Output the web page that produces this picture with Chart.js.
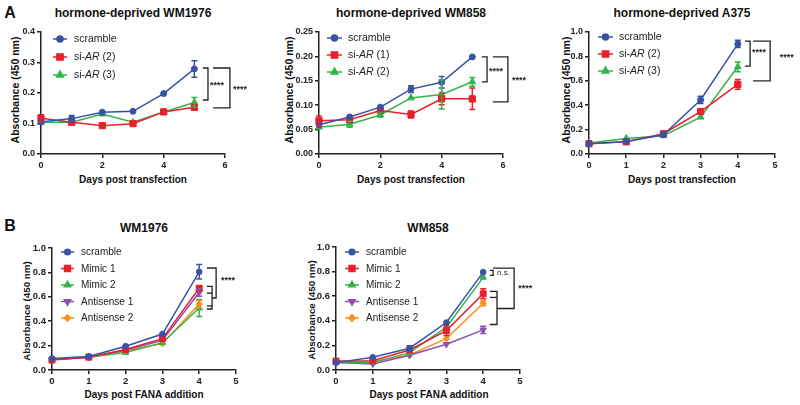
<!DOCTYPE html>
<html>
<head>
<meta charset="utf-8">
<script src="https://cdn.jsdelivr.net/npm/chart.js@4.4.1/dist/chart.umd.min.js"></script>
<style>
  body { margin: 0; background: #fff; }
  #fig { position: relative; width: 800px; height: 405px; overflow: hidden;
         font-family: "Liberation Sans", Arial, sans-serif; color: #111; }
  canvas { position: absolute; }
  .t { position: absolute; white-space: nowrap; font-weight: bold; transform: translate(-50%, -50%); }
  .yt { transform: translate(-50%, -50%) rotate(-90deg); }
</style>
</head>
<body>
<div id="fig">
  <div class="t" style="left:10px;top:13px;font-size:16px">A</div>
  <div class="t" style="left:10px;top:226px;font-size:16px">B</div>

  <div class="t" style="left:133px;top:13px;font-size:12px">hormone-deprived WM1976</div>
  <div class="t" style="left:411px;top:13px;font-size:12px">hormone-deprived WM858</div>
  <div class="t" style="left:682px;top:13px;font-size:12px">hormone-deprived A375</div>
  <div class="t" style="left:144px;top:228px;font-size:12px">WM1976</div>
  <div class="t" style="left:428px;top:228px;font-size:12px">WM858</div>

  <div class="t" style="left:133px;top:179px;font-size:10px">Days post transfection</div>
  <div class="t" style="left:411px;top:179px;font-size:10px">Days post transfection</div>
  <div class="t" style="left:682px;top:179px;font-size:10px">Days post transfection</div>
  <div class="t" style="left:144px;top:394px;font-size:10px">Days post FANA addition</div>
  <div class="t" style="left:429px;top:394px;font-size:10px">Days post FANA addition</div>

  <div class="t yt" style="left:15px;top:90px;font-size:10.5px">Absorbance (450 nm)</div>
  <div class="t yt" style="left:289px;top:90px;font-size:10.5px">Absorbance (450 nm)</div>
  <div class="t yt" style="left:566px;top:90px;font-size:10.5px">Absorbance (450 nm)</div>
  <div class="t yt" style="left:26px;top:311px;font-size:9.8px">Absorbance (450 nm)</div>
  <div class="t yt" style="left:311px;top:310px;font-size:9.8px">Absorbance (450 nm)</div>

  <canvas id="a1" width="265" height="175" style="left:0;top:0"></canvas>
  <canvas id="a2" width="265" height="175" style="left:270px;top:0"></canvas>
  <canvas id="a3" width="260" height="175" style="left:540px;top:0"></canvas>
  <canvas id="b1" width="270" height="192" style="left:0;top:200px"></canvas>
  <canvas id="b2" width="260" height="192" style="left:290px;top:200px"></canvas>
</div>

<script>
// ---- data ----
const daysA = [0, 1, 2, 3, 4, 5];
const daysA375 = [0, 1, 2, 3, 4];
const daysB = [0, 1, 2, 3, 4];

const xTicks6 = [0, 2, 4, 6];
const xTicks5 = [0, 1, 2, 3, 4, 5];
const yTicksA1 = [0, 0.1, 0.2, 0.3, 0.4];
const yTicksA2 = [0, 0.05, 0.10, 0.15, 0.20, 0.25];
const yTicks10 = [0, 0.2, 0.4, 0.6, 0.8, 1.0];

// hormone-deprived WM1976
const wm1976Scramble = [0.105, 0.116, 0.137, 0.140, 0.198, 0.279];
const wm1976ScrambleErr = [0, 0.010, 0, 0, 0, 0.027];
const wm1976Si2 = [0.117, 0.104, 0.093, 0.0995, 0.138, 0.153];
const wm1976Si2Err = [0.012, 0, 0, 0, 0, 0.006];
const wm1976Si3 = [0.104, 0.104, 0.131, 0.104, 0.138, 0.169];
const wm1976Si3Err = [0, 0, 0, 0, 0, 0.016];

// hormone-deprived WM858
const wm858Scramble = [0.060, 0.076, 0.096, 0.133, 0.147, 0.199];
const wm858ScrambleErr = [0, 0, 0, 0.007, 0.012, 0];
const wm858Si1 = [0.068, 0.070, 0.089, 0.081, 0.113, 0.113];
const wm858Si1Err = [0.010, 0, 0, 0.007, 0.012, 0.022];
const wm858Si2 = [0.055, 0.061, 0.080, 0.115, 0.122, 0.148];
const wm858Si2Err = [0, 0.006, 0.004, 0, 0.030, 0.009];

// hormone-deprived A375
const a375Scramble = [0.084, 0.103, 0.158, 0.443, 0.902];
const a375ScrambleErr = [0, 0, 0, 0.03, 0.03];
const a375Si2 = [0.084, 0.100, 0.166, 0.348, 0.571];
const a375Si2Err = [0, 0, 0, 0, 0.04];
const a375Si3 = [0.090, 0.128, 0.150, 0.302, 0.715];
const a375Si3Err = [0, 0, 0, 0, 0.04];

// WM1976 FANA
const bWm1976Scramble = [0.095, 0.111, 0.195, 0.295, 0.805];
const bWm1976ScrambleErr = [0, 0, 0, 0, 0.06];
const bWm1976Mimic1 = [0.081, 0.105, 0.168, 0.257, 0.670];
const bWm1976Mimic1Err = [0, 0, 0, 0, 0.02];
const bWm1976Mimic2 = [0.086, 0.105, 0.143, 0.224, 0.508];
const bWm1976Mimic2Err = [0, 0, 0, 0, 0.07];
const bWm1976Anti1 = [0.086, 0.105, 0.162, 0.243, 0.635];
const bWm1976Anti1Err = [0, 0, 0, 0, 0.03];
const bWm1976Anti2 = [0.086, 0.105, 0.157, 0.216, 0.540];
const bWm1976Anti2Err = [0, 0, 0, 0, 0.03];

// WM858 FANA
const bWm858Scramble = [0.060, 0.103, 0.177, 0.386, 0.796];
const bWm858ScrambleErr = [0, 0, 0.02, 0, 0];
const bWm858Mimic1 = [0.073, 0.076, 0.163, 0.320, 0.620];
const bWm858Mimic1Err = [0, 0, 0, 0.04, 0.04];
const bWm858Mimic2 = [0.060, 0.060, 0.141, 0.348, 0.753];
const bWm858Mimic2Err = [0, 0, 0, 0, 0];
const bWm858Anti1 = [0.060, 0.049, 0.120, 0.209, 0.326];
const bWm858Anti1Err = [0, 0, 0, 0, 0.03];
const bWm858Anti2 = [0.068, 0.068, 0.122, 0.255, 0.543];
const bWm858Anti2Err = [0, 0, 0, 0, 0.02];

// ---- styles ----
const STY = {
  blue:   { c: '#3953a4', ps: 'circle',   r: 3.0, rot: 0 },
  red:    { c: '#e8202a', ps: 'rect',     r: 4.4, rot: 0 },
  green:  { c: '#36b24a', ps: 'triangle', r: 3.9, rot: 0 },
  purple: { c: '#8e4fb2', ps: 'triangle', r: 3.9, rot: 180 },
  orange: { c: '#f7931e', ps: 'rectRot',  r: 3.4, rot: 0 }
};
const INK = '#222';
const FONT = '"Liberation Sans", Arial, sans-serif';

function series(label, xs, ys, errs, key, k) {
  const s = STY[key];
  return {
    label: label,
    data: xs.map((x, i) => ({ x: x, y: ys[i] })),
    errorBars: errs,
    borderColor: s.c,
    backgroundColor: s.c,
    pointBackgroundColor: s.c,
    pointBorderColor: s.c,
    pointStyle: s.ps,
    pointRotation: s.rot,
    pointRadius: s.r * k,
    pointHoverRadius: s.r * k,
    pointBorderWidth: 1,
    borderWidth: 1.5,
    tension: 0,
    fill: false,
    clip: false
  };
}

// error bars with caps
const errorBarPlugin = {
  id: 'errorBars',
  afterDatasetsDraw(chart) {
    const ctx = chart.ctx, ys = chart.scales.y;
    chart.data.datasets.forEach((ds, di) => {
      const meta = chart.getDatasetMeta(di);
      if (!ds.errorBars) return;
      ctx.save();
      ctx.strokeStyle = ds.borderColor;
      ctx.lineWidth = 1.5;
      meta.data.forEach((pt, i) => {
        const e = ds.errorBars[i];
        if (!e) return;
        const v = ds.data[i].y;
        const top = ys.getPixelForValue(v + e), bot = ys.getPixelForValue(v - e);
        ctx.beginPath();
        ctx.moveTo(pt.x, top); ctx.lineTo(pt.x, bot);
        ctx.moveTo(pt.x - 3, top); ctx.lineTo(pt.x + 3, top);
        ctx.moveTo(pt.x - 3, bot); ctx.lineTo(pt.x + 3, bot);
        ctx.stroke();
      });
      ctx.restore();
    });
  }
};

// legend drawn inside the plot area
function drawMarker(ctx, opts, x, y) {
  if (Chart.helpers && Chart.helpers.drawPoint) {
    Chart.helpers.drawPoint(ctx, opts, x, y);
    return;
  }
  ctx.beginPath(); ctx.arc(x, y, opts.radius, 0, Math.PI * 2); ctx.fill();
}
const inLegendPlugin = {
  id: 'inLegend',
  afterDraw(chart, args, o) {
    const ctx = chart.ctx, a = chart.chartArea;
    ctx.save();
    chart.data.datasets.forEach((ds, i) => {
      const y = a.top + o.y + i * o.gap;
      const x0 = a.left + o.x;
      ctx.strokeStyle = ds.borderColor;
      ctx.fillStyle = ds.borderColor;
      ctx.lineWidth = 1.5;
      ctx.beginPath(); ctx.moveTo(x0, y); ctx.lineTo(x0 + o.len, y); ctx.stroke();
      drawMarker(ctx, { pointStyle: ds.pointStyle, rotation: ds.pointRotation,
        radius: ds.pointRadius, borderWidth: 1 }, x0 + o.len / 2, y);
      // label, <i>..</i> in italics
      let tx = a.left + o.tx;
      ctx.fillStyle = '#222';
      ctx.textBaseline = 'middle';
      ctx.textAlign = 'left';
      let ital = false;
      ds.label.split(/(<i>|<\/i>)/).forEach(part => {
        if (part === '<i>') { ital = true; return; }
        if (part === '</i>') { ital = false; return; }
        if (!part) return;
        ctx.font = (ital ? 'italic ' : '') + o.size + 'px ' + FONT;
        ctx.fillText(part, tx, y + 0.5);
        tx += ctx.measureText(part).width;
      });
    });
    ctx.restore();
  }
};

// significance brackets, in data units
const bracketPlugin = {
  id: 'brackets',
  afterDraw(chart, args, o) {
    const ctx = chart.ctx, xs = chart.scales.x, ys = chart.scales.y;
    ctx.save();
    ctx.strokeStyle = INK;
    ctx.lineWidth = 1.3;
    (o.paths || []).forEach(p => {
      ctx.beginPath();
      p.forEach((q, i) => {
        const px = xs.getPixelForValue(q[0]), py = ys.getPixelForValue(q[1]);
        if (i === 0) ctx.moveTo(px, py); else ctx.lineTo(px, py);
      });
      ctx.stroke();
    });
    ctx.fillStyle = INK;
    ctx.textBaseline = 'middle';
    ctx.textAlign = 'left';
    (o.labels || []).forEach(l => {
      ctx.font = (l.bold ? 'bold ' : '') + l.size + 'px ' + FONT;
      ctx.fillText(l.text, xs.getPixelForValue(l.x), ys.getPixelForValue(l.y));
    });
    ctx.restore();
  }
};

function makePanel(id, p) {
  const axisBase = {
    type: 'linear',
    grid: { display: true, drawOnChartArea: false, drawTicks: true, tickLength: 4, color: INK, lineWidth: 1.5 },
    border: { display: true, color: INK, width: 1.5 }
  };
  new Chart(document.getElementById(id), {
    type: 'line',
    data: { datasets: p.datasets },
    plugins: [errorBarPlugin, inLegendPlugin, bracketPlugin],
    options: {
      responsive: false,
      animation: false,
      devicePixelRatio: 1,
      events: [],
      layout: { padding: { left: 0, top: p.padT, right: p.padR, bottom: 0 } },
      plugins: {
        legend: { display: false },
        title: { display: false },
        tooltip: { enabled: false },
        inLegend: p.legend,
        brackets: p.brackets
      },
      scales: {
        x: Object.assign({}, axisBase, {
          min: p.xTicks[0], max: p.xTicks[p.xTicks.length - 1],
          afterBuildTicks: s => { s.ticks = p.xTicks.map(v => ({ value: v })); },
          afterFit: s => { s.height = p.xH; },
          ticks: { color: INK, padding: 2, maxRotation: 0, autoSkip: false,
                   font: { family: FONT, size: p.tickSize, weight: 'bold' },
                   callback: v => String(v) }
        }),
        y: Object.assign({}, axisBase, {
          min: p.yTicks[0], max: p.yTicks[p.yTicks.length - 1],
          afterBuildTicks: s => { s.ticks = p.yTicks.map(v => ({ value: v })); },
          afterFit: s => { s.width = p.yW; },
          ticks: { color: INK, padding: 2, autoSkip: false,
                   font: { family: FONT, size: p.tickSize, weight: 'bold' },
                   callback: v => Number(v).toFixed(p.dec) }
        })
      }
    }
  });
}

const stars = (x, y) => ({ text: '****', x: x, y: y, size: 9, bold: true });

makePanel('a1', {
  padT: 32, padR: 40, yW: 41, xH: 21, tickSize: 9, dec: 1,
  xTicks: xTicks6, yTicks: yTicksA1,
  datasets: [
    series('scramble', daysA, wm1976Scramble, wm1976ScrambleErr, 'blue', 1),
    series('si-<i>AR</i> (2)', daysA, wm1976Si2, wm1976Si2Err, 'red', 1),
    series('si-<i>AR</i> (3)', daysA, wm1976Si3, wm1976Si3Err, 'green', 1)
  ],
  legend: { x: 12, len: 14, tx: 33, y: 7, gap: 18, size: 10.5 },
  brackets: {
    paths: [
      [[5.28, 0.282], [5.445, 0.282], [5.445, 0.177], [5.28, 0.177]],
      [[5.61, 0.282], [6.16, 0.282], [6.16, 0.151], [5.61, 0.151]]
    ],
    labels: [stars(5.51, 0.226), stars(6.26, 0.21)]
  }
});

makePanel('a2', {
  padT: 32, padR: 32, yW: 49, xH: 21, tickSize: 9, dec: 2,
  xTicks: xTicks6, yTicks: yTicksA2,
  datasets: [
    series('scramble', daysA, wm858Scramble, wm858ScrambleErr, 'blue', 1),
    series('si-<i>AR</i> (1)', daysA, wm858Si1, wm858Si1Err, 'red', 1),
    series('si-<i>AR</i> (2)', daysA, wm858Si2, wm858Si2Err, 'green', 1)
  ],
  legend: { x: 8, len: 15, tx: 29, y: 6, gap: 17, size: 10.5 },
  brackets: {
    paths: [
      [[5.31, 0.199], [5.48, 0.199], [5.48, 0.148], [5.31, 0.148]],
      [[5.67, 0.199], [6.16, 0.199], [6.16, 0.107], [5.67, 0.107]]
    ],
    labels: [stars(5.54, 0.170), stars(6.29, 0.150)]
  }
});

makePanel('a3', {
  padT: 32, padR: 25, yW: 49, xH: 21, tickSize: 9, dec: 1,
  xTicks: xTicks5, yTicks: yTicks10,
  datasets: [
    series('scramble', daysA375, a375Scramble, a375ScrambleErr, 'blue', 1),
    series('si-<i>AR</i> (2)', daysA375, a375Si2, a375Si2Err, 'red', 1),
    series('si-<i>AR</i> (3)', daysA375, a375Si3, a375Si3Err, 'green', 1)
  ],
  legend: { x: 9, len: 15, tx: 30, y: 5, gap: 17, size: 10.5 },
  brackets: {
    paths: [
      [[4.19, 0.926], [4.33, 0.926], [4.33, 0.72], [4.19, 0.72]],
      [[4.41, 0.926], [4.87, 0.926], [4.87, 0.60], [4.41, 0.60]]
    ],
    labels: [stars(4.38, 0.83), stars(5.13, 0.79)]
  }
});

makePanel('b1', {
  padT: 48, padR: 34, yW: 52, xH: 22, tickSize: 9.5, dec: 1,
  xTicks: xTicks5, yTicks: yTicks10,
  datasets: [
    series('scramble', daysB, bWm1976Scramble, bWm1976ScrambleErr, 'blue', 0.95),
    series('Mimic 1', daysB, bWm1976Mimic1, bWm1976Mimic1Err, 'red', 0.95),
    series('Mimic 2', daysB, bWm1976Mimic2, bWm1976Mimic2Err, 'green', 0.95),
    series('Antisense 1', daysB, bWm1976Anti1, bWm1976Anti1Err, 'purple', 0.95),
    series('Antisense 2', daysB, bWm1976Anti2, bWm1976Anti2Err, 'orange', 0.95)
  ],
  legend: { x: 9, len: 13, tx: 29, y: 4, gap: 16.5, size: 10 },
  brackets: {
    paths: [
      [[4.21, 0.836], [4.46, 0.836], [4.46, 0.59], [4.35, 0.59]],
      [[4.21, 0.685], [4.35, 0.685], [4.35, 0.50], [4.21, 0.50]],
      [[4.21, 0.63], [4.35, 0.63]],
      [[4.21, 0.525], [4.35, 0.525]]
    ],
    labels: [stars(4.59, 0.73)]
  }
});

makePanel('b2', {
  padT: 47, padR: 30, yW: 46, xH: 22, tickSize: 9.5, dec: 1,
  xTicks: xTicks5, yTicks: yTicks10,
  datasets: [
    series('scramble', daysB, bWm858Scramble, bWm858ScrambleErr, 'blue', 0.95),
    series('Mimic 1', daysB, bWm858Mimic1, bWm858Mimic1Err, 'red', 0.95),
    series('Mimic 2', daysB, bWm858Mimic2, bWm858Mimic2Err, 'green', 0.95),
    series('Antisense 1', daysB, bWm858Anti1, bWm858Anti1Err, 'purple', 0.95),
    series('Antisense 2', daysB, bWm858Anti2, bWm858Anti2Err, 'orange', 0.95)
  ],
  legend: { x: 9, len: 14, tx: 30, y: 5, gap: 16.5, size: 10 },
  brackets: {
    paths: [
      [[4.18, 0.81], [4.27, 0.81], [4.27, 0.77], [4.18, 0.77]],
      [[4.27, 0.828], [4.84, 0.828], [4.84, 0.50], [4.375, 0.50]],
      [[4.18, 0.64], [4.375, 0.64], [4.375, 0.37], [4.18, 0.37]],
      [[4.18, 0.59], [4.375, 0.59]]
    ],
    labels: [
      { text: 'n.s.', x: 4.375, y: 0.79, size: 8, bold: false },
      stars(4.95, 0.66)
    ]
  }
});
</script>
</body>
</html>
